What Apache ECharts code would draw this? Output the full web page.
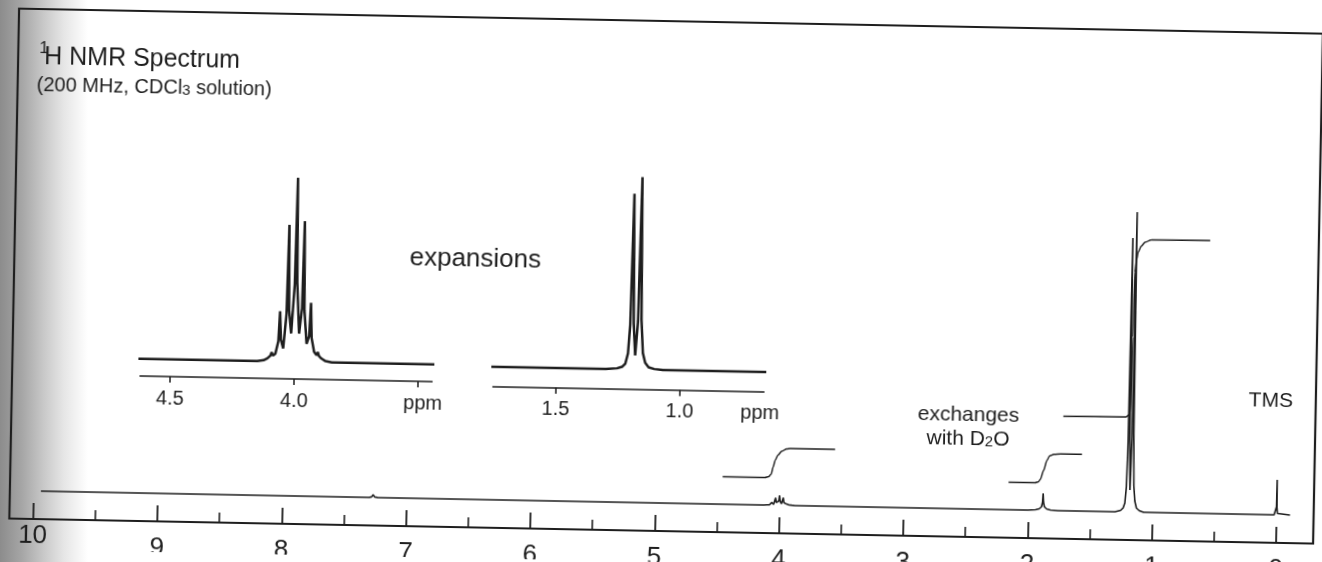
<!DOCTYPE html>
<html><head><meta charset="utf-8">
<script src="https://cdn.jsdelivr.net/npm/echarts@6/dist/echarts.min.js"></script>
<style>
html,body{margin:0;padding:0;width:1322px;height:562px;overflow:hidden;
background:linear-gradient(to right,#8c8c8c 0px,#a6a6a6 22px,#c9c9c9 44px,#e6e6e6 64px,#ffffff 88px);}
#chart{width:1322px;height:562px;transform:rotate(1.1deg);transform-origin:661px 281px;background:transparent;}
</style></head><body><div id="chart"></div>
<script>
// ---- tick values / labels ----
const mainTickValues = [10,9,8,7,6,5,4,3,2,1,0];
const mainLabelValues = [9,8,7,6,5,4,3,2,1,0];
const mainTickLabels = ['9','8','7','6','5','4','3','2','1','0'];
const mainMinorTicks = [9.5,8.5,7.5,6.5,5.5,4.5,3.5,2.5,1.5,0.5];
const leftLabelValues = [10];
const leftLabels = ['10'];
const inset1TickValues = [4.5,4.0,3.5];
const inset1LabelValues = [4.5,4.0,3.48];
const inset1Labels = ['4.5','4.0','ppm'];
const inset2TickValues = [1.5,1.0];
const inset2LabelValues = [1.5,1.0,0.676];
const inset2Labels = ['1.5','1.0','ppm'];

// ---- spectrum trace [ppm, intensity] ----
const spectrum = [
 [9.94,0],[7.30,0],[7.28,0.6],[7.268,2.8],[7.256,0.6],[7.23,0],
 [4.15,0],[4.125,0.05],[4.11,0.15],[4.098,0.3],[4.093,0.49],[4.088,0.3],[4.078,0.42],
 [4.067,1.1],[4.062,2.73],[4.057,1.2],[4.047,0.71],[4.036,2.6],[4.031,7.43],[4.026,2.8],
 [4.016,1.53],[4.005,4.2],[4.0,10],[3.995,4.3],[3.984,1.53],[3.974,2.9],[3.969,7.65],
 [3.964,2.8],[3.953,0.98],[3.943,1.4],[3.938,3.22],[3.933,1.3],[3.922,0.55],[3.912,0.38],
 [3.907,0.55],[3.902,0.33],[3.892,0.2],[3.875,0.06],[3.85,0],
 [2.0,0],[1.94,0.5],[1.91,1.5],[1.892,3.5],[1.884,8],[1.88,17],[1.876,8],[1.868,3.5],
 [1.85,1.5],[1.82,0.5],[1.76,0],
 [1.30,0],[1.255,1.5],[1.235,4],[1.222,9],[1.212,25],[1.205,70],[1.198,274],[1.191,72],
 [1.183,22],[1.174,75],[1.167,300],[1.160,78],[1.152,26],[1.142,11],[1.128,4],[1.105,1.5],[1.07,0],
 [0.02,0],[0.006,1.5],[0.002,8],[0,35],[-0.002,8],[-0.006,1.5],[-0.02,0],[-0.108,0]
];
// ---- integral traces ----
const integralCH = [[4.46,27.5],[4.12,27.5],[4.09,28.5],[4.07,31],[4.056,38],[4.04,45],[4.02,50],[3.99,54],[3.95,56.5],[3.92,57],[3.56,57]];
const integralOH = [[2.16,27.5],[1.946,27.5],[1.92,28.5],[1.905,31],[1.88,40],[1.855,50],[1.835,54.5],[1.80,56.3],[1.745,56.8],[1.574,56.8]];
const integralCH3 = [[1.73,94.5],[1.225,95],[1.205,97],[1.19,102],[1.183,175],[1.177,240],[1.165,252],[1.153,260],[1.13,266],[1.10,270],[1.05,272.5],[0.576,273]];

const INK = '#1e1e1e';
const FONT = "'Liberation Sans', Arial, Helvetica, sans-serif";

function fmt(values, labels){
  return function(v){
    let b = 0;
    for (let i = 1; i < values.length; i++) if (Math.abs(values[i]-v) < Math.abs(values[b]-v)) b = i;
    return labels[b];
  };
}

const chart = echarts.init(document.getElementById('chart'), null, {renderer:'canvas'});
const lbl = {color: INK, fontFamily: FONT};

chart.setOption({
  animation: false,
  backgroundColor: 'transparent',
  grid: [
    {left:14, right:4, top:21, bottom:31, show:true, borderColor:INK, borderWidth:2.2, backgroundColor:'transparent', outerBoundsMode:'none', containLabel:false},
    {left:142, width:292, top:170, height:216, outerBoundsMode:'none', containLabel:false},
    {left:495, width:271, top:170, height:219.8, outerBoundsMode:'none', containLabel:false}
  ],
  xAxis: [
    {gridIndex:0, type:'value', inverse:true, min:-0.298, max:10.19, position:'bottom',
     axisLine:{show:true, onZero:false, lineStyle:{color:INK, width:2}},
     axisTick:{show:true, inside:true, length:16, customValues:mainTickValues, lineStyle:{color:INK, width:1.8}},
     axisLabel:Object.assign({customValues:mainLabelValues, margin:14, fontSize:26, formatter:fmt(mainLabelValues, mainTickLabels)}, lbl),
     splitLine:{show:false}},
    {gridIndex:0, type:'value', inverse:true, min:-0.298, max:10.19, position:'bottom',
     axisLine:{show:false, onZero:false},
     axisTick:{show:true, inside:true, length:10, customValues:mainMinorTicks, lineStyle:{color:INK, width:1.6}},
     axisLabel:{show:false}, splitLine:{show:false}},
    {gridIndex:0, type:'value', inverse:true, min:-0.298, max:10.19, position:'bottom',
     axisLine:{show:false, onZero:false}, axisTick:{show:false},
     axisLabel:Object.assign({customValues:leftLabelValues, margin:4, fontSize:26, formatter:fmt(leftLabelValues, leftLabels)}, lbl),
     splitLine:{show:false}},
    {gridIndex:1, type:'value', inverse:true, min:3.444, max:4.622, position:'bottom',
     axisLine:{show:true, onZero:false, lineStyle:{color:INK, width:1.6}},
     axisTick:{show:true, inside:false, length:6, customValues:inset1TickValues, lineStyle:{color:INK, width:1.5}},
     axisLabel:Object.assign({customValues:inset1LabelValues, margin:12, fontSize:20, formatter:fmt(inset1LabelValues, inset1Labels)}, lbl),
     splitLine:{show:false}},
    {gridIndex:2, type:'value', inverse:true, min:0.661, max:1.754, position:'bottom',
     axisLine:{show:true, onZero:false, lineStyle:{color:INK, width:1.6}},
     axisTick:{show:true, inside:false, length:6, customValues:inset2TickValues, lineStyle:{color:INK, width:1.5}},
     axisLabel:Object.assign({customValues:inset2LabelValues, margin:12, fontSize:20, formatter:fmt(inset2LabelValues, inset2Labels)}, lbl),
     splitLine:{show:false}}
  ],
  yAxis: [
    {gridIndex:0, type:'value', min:-28, max:482, show:false},
    {gridIndex:1, type:'value', min:-0.94, max:10.8, show:false},
    {gridIndex:2, type:'value', min:-30.7, max:311.7, show:false}
  ],
  graphic: [
    {type:'text', x:35, y:60, style:{text:'1', fontSize:17, fontFamily:FONT, fill:INK, align:'left', verticalAlign:'middle'}},
    {type:'text', x:40, y:69, style:{text:'H NMR Spectrum', fontSize:25, fontFamily:FONT, fill:INK, align:'left', verticalAlign:'middle'}},
    {type:'text', x:33, y:97, style:{text:'(200 MHz, CDCl{sub|3} solution)', fontSize:20, fontFamily:FONT, fill:INK, align:'left', verticalAlign:'middle',
      rich:{sub:{fontSize:15, lineHeight:15, fontFamily:FONT, fill:INK, verticalAlign:'bottom', padding:[20,0,0,0]}}}},
    {type:'text', x:475, y:263, style:{text:'expansions', fontSize:26, fontFamily:FONT, fill:INK, align:'center', verticalAlign:'middle'}},
    {type:'text', x:971, y:409, style:{text:'exchanges', fontSize:21, fontFamily:FONT, fill:INK, align:'center', verticalAlign:'middle'}},
    {type:'text', x:971, y:433, style:{text:'with D{sub|2}O', fontSize:21, fontFamily:FONT, fill:INK, align:'center', verticalAlign:'middle',
      rich:{sub:{fontSize:15, lineHeight:15, fontFamily:FONT, fill:INK, verticalAlign:'bottom', padding:[20,0,0,0]}}}},
    {type:'text', x:1273, y:389, style:{text:'TMS', fontSize:21, fontFamily:FONT, fill:INK, align:'center', verticalAlign:'middle'}}
  ],
  series: [
    {name:'spectrum', type:'line', xAxisIndex:0, yAxisIndex:0, data:spectrum, showSymbol:false, symbol:'none',
     lineStyle:{color:INK, width:1.6}, clip:true},
    {name:'integral CH', type:'line', xAxisIndex:0, yAxisIndex:0, data:integralCH, symbol:'none', smooth:0.25, smoothMonotone:'x',
     lineStyle:{color:INK, width:1.4}},
    {name:'integral OH', type:'line', xAxisIndex:0, yAxisIndex:0, data:integralOH, symbol:'none', smooth:0.25, smoothMonotone:'x',
     lineStyle:{color:INK, width:1.4}},
    {name:'integral CH3', type:'line', xAxisIndex:0, yAxisIndex:0, data:integralCH3, symbol:'none', smooth:0.25, smoothMonotone:'x',
     lineStyle:{color:INK, width:1.4}},
    {name:'expansion 4.0', type:'line', xAxisIndex:3, yAxisIndex:1, data:spectrum, symbol:'none',
     lineStyle:{color:INK, width:2.5}, clip:true},
    {name:'expansion 1.2', type:'line', xAxisIndex:4, yAxisIndex:2, data:spectrum, symbol:'none',
     lineStyle:{color:INK, width:2.5}, clip:true}
  ]
});
</script></body></html>
